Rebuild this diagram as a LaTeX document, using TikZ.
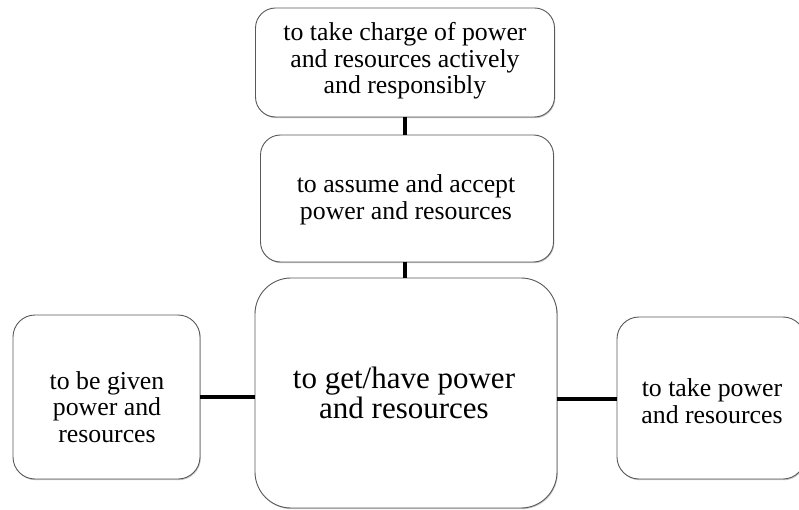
\documentclass[tikz,border=0pt]{standalone}
\usepackage{fontspec}
\setmainfont{Liberation Serif}
\usetikzlibrary{shadows}

\tikzset{
  box/.style={draw=gray!70!black, line width=0.9pt, fill=white, rounded corners=#1,
    align=center, inner sep=0pt,
    drop shadow={shadow xshift=0.8pt, shadow yshift=-1.2pt, fill=gray!60, opacity=0.7}},
  box/.default=20pt,
  link/.style={line width=4pt, black},
  txt/.style={font=\fontsize{25.8}{26.5}\selectfont},
  bigtxt/.style={font=\fontsize{31}{29.5}\selectfont}
}

\begin{document}
\begin{tikzpicture}[x=1pt, y=-1pt]
  \useasboundingbox (0,0) rectangle (799,510);

  % boxes
  \node[box=20pt, minimum width=299pt, minimum height=109pt] (charge) at (405,62.5) {};
  \node[box=20pt, minimum width=293pt, minimum height=127pt] (assume) at (407,198.5) {};
  \node[box=36pt, minimum width=302pt, minimum height=230pt] (get) at (406,393) {};
  \node[box=22pt, minimum width=187pt, minimum height=164pt] (given) at (106.5,397) {};
  \node[box=22pt, minimum width=188pt, minimum height=162pt] (take) at (711,398) {};

  % labels
  \node[txt, align=center] (lcharge) at (405,61) {to take charge of power\\and resources actively\\and responsibly};
  \node[txt, align=center] (lassume) at (406,200) {to assume and accept\\power and resources};
  \node[bigtxt, align=center] (lget) at (404,393) {to get/have power\\and resources};
  \node[txt, align=center] (lgiven) at (107,407) {to be given\\power and\\resources};
  \node[txt, align=center] (ltake) at (712,401) {to take power\\and resources};

  % connectors
  \draw[link] (charge.south -| 405,0) -- (assume.north -| 405,0);
  \draw[link] (assume.south -| 405,0) -- (get.north -| 405,0);
  \draw[link] (given.east |- 0,397) -- (get.west |- 0,397);
  \draw[link] (get.east |- 0,399) -- (take.west |- 0,399);
\end{tikzpicture}
\end{document}
